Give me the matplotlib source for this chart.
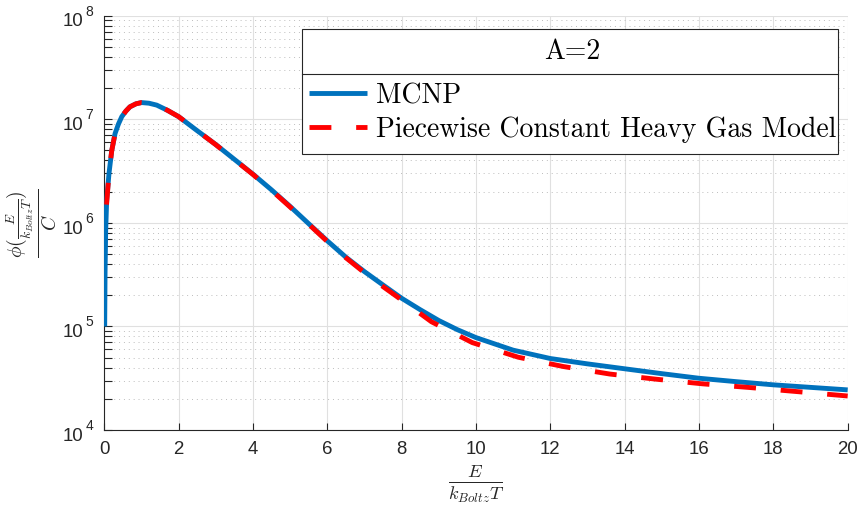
import matplotlib
matplotlib.use("Agg")
import matplotlib.pyplot as plt
from matplotlib.lines import Line2D
from matplotlib.patches import Rectangle
from matplotlib.transforms import IdentityTransform
from matplotlib.ticker import LogLocator, NullFormatter

plt.rcParams['font.family'] = ['Liberation Sans', 'DejaVu Sans']
plt.rcParams['mathtext.fontset'] = 'cm'

# MCNP curve
mcnp_x = [0.01, 0.02, 0.037, 0.064, 0.126, 0.2, 0.29, 0.38, 0.47, 0.58, 0.69, 0.85,
          1.0, 1.2, 1.41, 1.7, 2.0, 2.5, 3.0, 3.5, 4.0, 4.5, 5.0, 5.5, 6.0, 6.5,
          7.0, 7.5, 8.0, 8.5, 9.0, 9.5, 10, 11, 12, 13, 14, 15, 16, 17, 18, 19, 20]
mcnp_y = [1.0e5, 3.3e5, 8.5e5, 1.66e6, 3.0e6, 5.0e6, 7.3e6, 9.0e6, 1.06e7, 1.2e7, 1.32e7, 1.41e7,
          1.45e7, 1.43e7, 1.37e7, 1.22e7, 1.06e7, 7.75e6, 5.7e6, 4.1e6, 2.95e6, 2.08e6, 1.44e6, 9.8e5,
          6.7e5, 4.66e5, 3.38e5, 2.51e5, 1.87e5, 1.45e5, 1.14e5, 9.3e4, 7.8e4, 5.9e4, 4.9e4, 4.35e4,
          3.9e4, 3.5e4, 3.16e4, 2.93e4, 2.73e4, 2.58e4, 2.44e4]

# piecewise constant heavy gas model
pc_x = [0.06, 0.126, 0.2, 0.29, 0.38, 0.47, 0.58, 0.69, 0.85, 1.0, 1.2, 1.41, 1.7, 2.0,
        2.5, 3.0, 3.5, 4.0, 4.5, 5.0, 5.5, 6.0, 6.5, 7.0, 7.5, 8.0, 8.8, 9.9, 11.14,
        12.35, 13.6, 14.86, 16.1, 17.37, 18.63, 20]
pc_y = [1.5e6, 3.0e6, 5.0e6, 7.3e6, 9.0e6, 1.06e7, 1.2e7, 1.32e7, 1.41e7, 1.45e7, 1.43e7,
        1.37e7, 1.22e7, 1.06e7, 7.75e6, 5.68e6, 4.08e6, 2.93e6, 2.06e6, 1.42e6, 9.7e5, 6.6e5,
        4.6e5, 3.3e5, 2.42e5, 1.8e5, 1.11e5, 6.98e4, 5.04e4, 4.1e4, 3.47e4, 3.09e4, 2.79e4,
        2.57e4, 2.35e4, 2.13e4]

x_ticks = list(range(0, 21, 2))
y_exponents = [4, 5, 6, 7, 8]

DARK = '#262626'

fig = plt.figure(figsize=(8.6, 5.05), dpi=100)
ax = fig.add_axes([0.1213, 0.1485, 0.8644, 0.8204])
ax.set_yscale('log')

ax.plot(mcnp_x, mcnp_y, color='#0072BD', lw=3.5, solid_capstyle='butt',
        label='MCNP', zorder=3)
ax.plot(pc_x, pc_y, color='#FF0000', lw=3.5, ls=(0, (4.5, 5.1)), dash_capstyle='butt',
        label='Piecewise Constant Heavy Gas Model', zorder=4)

ax.set_xlim(0, 20)
ax.set_ylim(1e4, 1e8)
ax.set_xticks(x_ticks)
ax.set_xticklabels([str(t) for t in x_ticks])
ax.set_yticks([10.0 ** e for e in y_exponents])
ax.yaxis.set_major_formatter(NullFormatter())
ax.yaxis.set_minor_locator(LogLocator(base=10, subs=range(2, 10)))
ax.yaxis.set_minor_formatter(NullFormatter())

ax.set_axisbelow(True)
ax.grid(which='major', color='#e0e0e0', lw=0.8)
ax.grid(which='minor', axis='y', color='#bdbdbd', ls=(0, (1, 4)), lw=0.7)

for s in ['top', 'right']:
    ax.spines[s].set_visible(False)
for s in ['left', 'bottom']:
    ax.spines[s].set_color(DARK)
    ax.spines[s].set_linewidth(0.8)

ax.tick_params(which='both', direction='in', length=5.4, width=0.8, color=DARK,
               top=False, right=False)
ax.tick_params(axis='x', labelsize=13.4, labelcolor=DARK, pad=8.0)

# y tick labels 10^n written as base + raised exponent
for e in y_exponents:
    ax.annotate('10', xy=(0, 10.0 ** e), xycoords=ax.get_yaxis_transform(),
                xytext=(-15.1, -7.7), textcoords='offset points', ha='right',
                va='baseline', fontsize=13.4, color=DARK, annotation_clip=False)
    ax.annotate(str(e), xy=(0, 10.0 ** e), xycoords=ax.get_yaxis_transform(),
                xytext=(-7.9, 0), textcoords='offset points', ha='right',
                va='baseline', fontsize=10, color=DARK, annotation_clip=False)

ax.set_xlabel(r'$\frac{E}{k_{Boltz}T}$', fontsize=19, color=DARK)
ax.xaxis.set_label_coords(0.5, -0.078)
ax.set_ylabel(r'$\frac{\phi(\frac{E}{k_{Boltz}T})}{C}$', fontsize=20, color=DARK)
ax.yaxis.set_label_coords(-0.0623, 0.5)

# legend without frame; MATLAB-style box with title separator drawn afterwards
anchor = [0.9843, 0.946]
leg = ax.legend(loc='upper right', bbox_to_anchor=tuple(anchor), borderaxespad=0,
                borderpad=0, frameon=False, title='A=2',
                prop={'family': 'cmr10', 'size': 20},
                title_fontproperties={'family': 'cmr10', 'size': 20},
                handlelength=2.1, handletextpad=0.3, labelspacing=0.25)
leg.set_zorder(6)

H = fig.bbox.height
r = fig.canvas.get_renderer()


def centre_y(t):
    b = t.get_window_extent(r)
    return (b.y0 + b.y1) / 2


fig.canvas.draw()
d = centre_y(leg.get_title()) - centre_y(leg.get_texts()[0])
leg._legend_box.sep += (44 - d) * 72 / fig.dpi
fig.canvas.draw()
right = max(t.get_window_extent(r).x1 for t in leg.get_texts())
anchor[0] += (836 - right) / ax.bbox.width
anchor[1] += ((H - 52) - centre_y(leg.get_title())) / ax.bbox.height
leg.set_bbox_to_anchor(tuple(anchor), transform=ax.transAxes)
fig.canvas.draw()

title_c = centre_y(leg.get_title())
last_c = centre_y(leg.get_texts()[-1])
h0 = leg.legend_handles[0].get_window_extent(r)
right = max(t.get_window_extent(r).x1 for t in leg.get_texts())
bx0, bx1 = h0.x0 - 7.5, right + 2
by0, by1 = last_c - 24.5, title_c + 23
ax.add_patch(Rectangle((bx0, by0), bx1 - bx0, by1 - by0, transform=IdentityTransform(),
                       facecolor='white', edgecolor=DARK, lw=0.8, zorder=5,
                       clip_on=False))
ysep = title_c - 21.6
ax.add_line(Line2D([bx0, bx1], [ysep, ysep], transform=IdentityTransform(),
                   color=DARK, lw=0.8, zorder=5.5, clip_on=False))

fig.savefig('out.png', dpi=100)
